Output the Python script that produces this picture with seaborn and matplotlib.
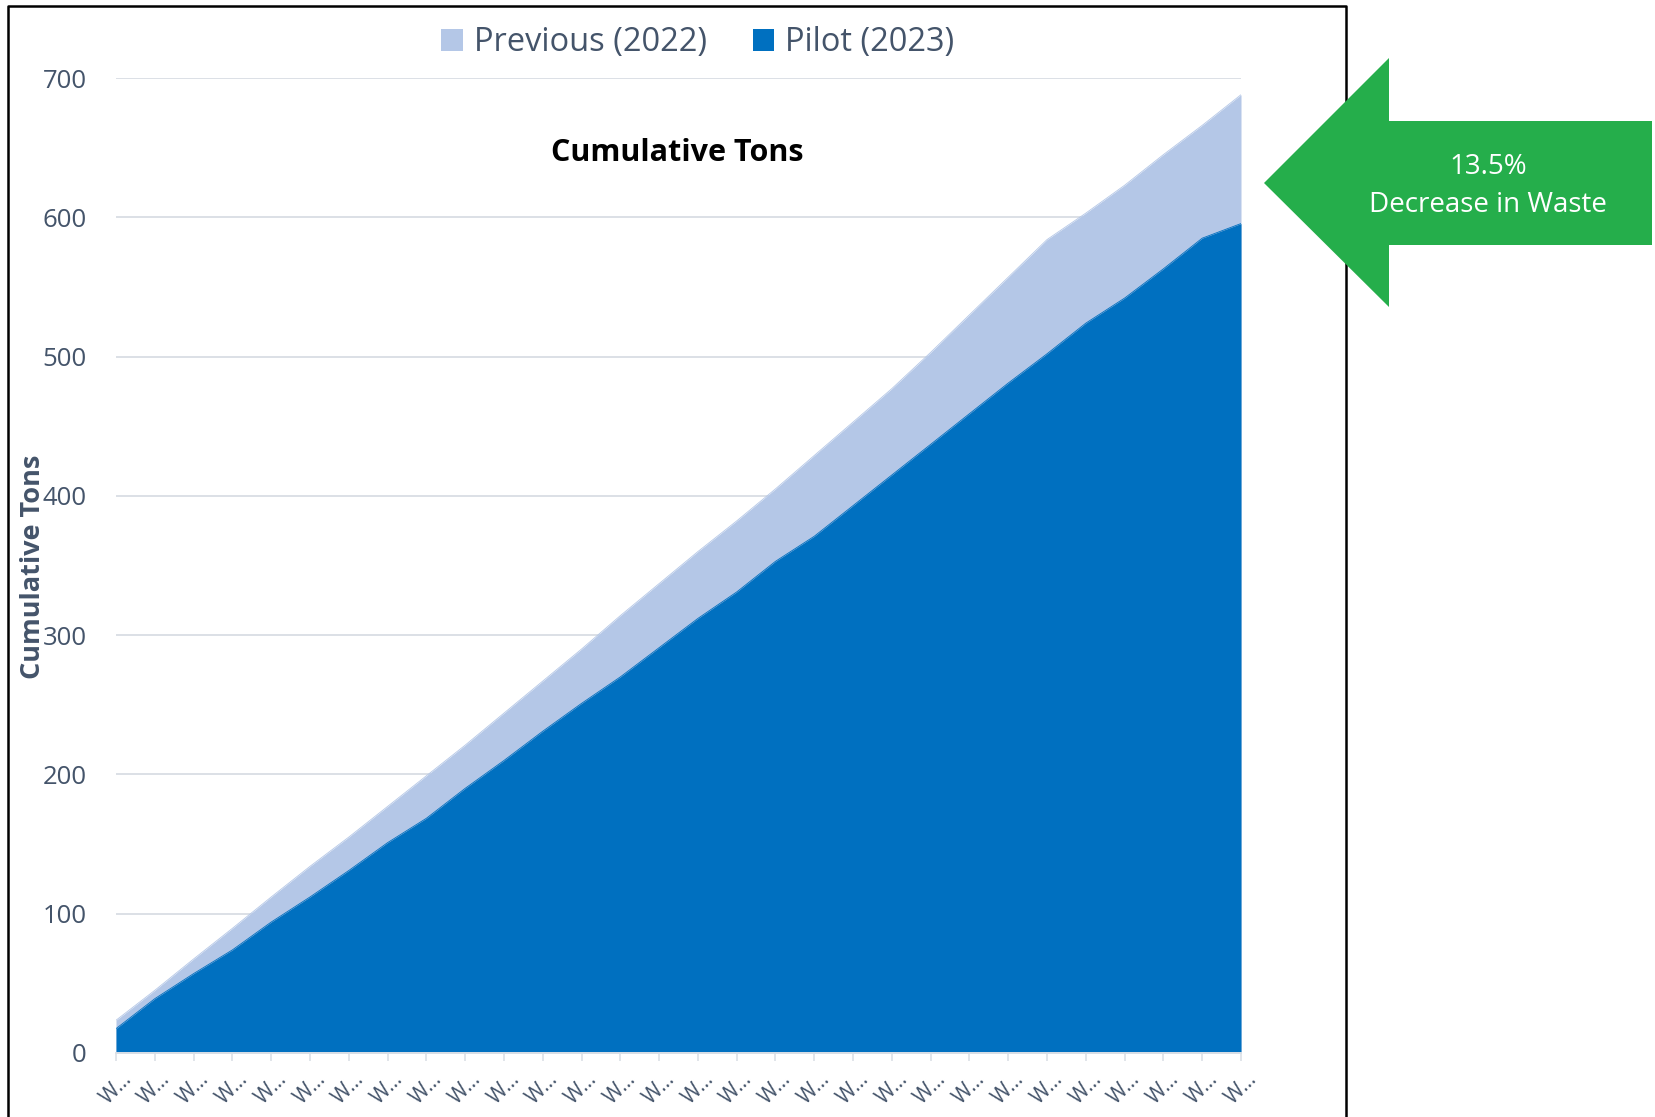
import matplotlib
matplotlib.use("Agg")
import matplotlib.pyplot as plt
from matplotlib.patches import Polygon, Patch
from matplotlib.lines import Line2D
import seaborn as sns
import pandas as pd
import numpy as np

# ---------------- data ----------------
weeks = ["W…", "W…", "W…", "W…", "W…", "W…", "W…", "W…", "W…", "W…",
         "W…", "W…", "W…", "W…", "W…", "W…", "W…", "W…", "W…", "W…",
         "W…", "W…", "W…", "W…", "W…", "W…", "W…", "W…", "W…", "W…"]
previous_2022 = [23.5, 45, 67.5, 89.5, 112, 134, 155, 177, 199, 221,
                 244, 267, 290, 314, 337, 360, 382, 405, 429, 453,
                 477, 503, 530, 557, 584, 603, 623, 645, 666, 688]
pilot_2023 = [17.5, 39, 57, 74, 94, 112, 131, 151, 168.5, 190,
              210, 231, 251, 270, 291, 312, 331, 353, 371, 393,
              415, 437, 459, 481, 502, 524, 542, 563, 585, 595.5]
series_names = ["Previous (2022)", "Pilot (2023)"]
y_ticks = [0, 100, 200, 300, 400, 500, 600, 700]
chart_title = "Cumulative Tons"
y_title = "Cumulative Tons"
callout_lines = ["13.5%", "Decrease in Waste"]

# ---------------- style ----------------
LIGHT = "#B4C7E7"
DARK = "#0070C0"
GREEN = "#25AE4B"
SLATE = "#44546A"
GRID = "#DCE0E6"

sns.set_theme(style="white")
plt.rcParams["font.family"] = ["Open Sans", "DejaVu Sans"]

W, H = 1655, 1117
fig = plt.figure(figsize=(W / 100, H / 100), dpi=100)
fig.patch.set_facecolor("white")

def fx(px):
    return px / W

def fy(py):
    return 1 - py / H

ax = fig.add_axes([fx(116), 64 / H, 1125 / W, 975 / H])

df = pd.DataFrame({"idx": np.arange(len(weeks)),
                   "previous": previous_2022,
                   "pilot": pilot_2023})

ax.fill_between(df["idx"], 0, df["previous"], color=LIGHT, lw=0, zorder=2)
sns.lineplot(data=df, x="idx", y="previous", color=LIGHT, lw=0.6, ax=ax, zorder=2)
ax.fill_between(df["idx"], 0, df["pilot"], color=DARK, lw=0, zorder=3)
sns.lineplot(data=df, x="idx", y="pilot", color=DARK, lw=0.6, ax=ax, zorder=3)

ax.set_xlim(0, len(weeks) - 1)
ax.set_ylim(0, 700)
ax.set_yticks(y_ticks)
ax.set_yticklabels([str(v) for v in y_ticks])
ax.set_xticks(df["idx"])
ax.set_xticklabels(weeks, rotation=45, ha="center")
ax.set_xlabel("")
ax.set_ylabel("")

ax.yaxis.grid(True, color=GRID, lw=1.4, zorder=0)
ax.xaxis.grid(False)
ax.set_axisbelow(True)
for s in ["top", "right", "left"]:
    ax.spines[s].set_visible(False)
ax.spines["bottom"].set_color(GRID)
ax.spines["bottom"].set_linewidth(1.4)
ax.spines["bottom"].set_zorder(4)

ax.tick_params(axis="y", length=0, pad=21, labelsize=18.5, labelcolor=SLATE)
ax.tick_params(axis="x", length=6, width=1.2, color=GRID, pad=5,
               labelsize=15, labelcolor=SLATE, bottom=True)

# chart title inside the plot area
ax.text(0.4987, 0.923, chart_title, transform=ax.transAxes, ha="center",
        va="center", fontsize=22, fontweight="bold", color="black")

# y axis title
fig.text(fx(33), fy(567), y_title, rotation=90, ha="center", va="center",
         fontsize=19.5, fontweight="bold", color=SLATE)

# legend
handles = [Patch(facecolor=LIGHT, edgecolor="none"),
           Patch(facecolor=DARK, edgecolor="none")]
fig.legend(handles, series_names, loc="center", ncol=2, frameon=False,
           bbox_to_anchor=(fx(698), fy(43)), bbox_transform=fig.transFigure,
           fontsize=23.5, labelcolor=SLATE, handlelength=0.65, handleheight=0.65,
           handletextpad=0.35, columnspacing=1.4)

# outer border (runs off the bottom of the image)
border = Line2D([fx(8), fx(8), fx(1346), fx(1346)],
                [fy(1125), fy(6), fy(6), fy(1125)],
                transform=fig.transFigure, color="black", lw=1.8, zorder=5)
fig.add_artist(border)

# green callout arrow
arrow_pts = [(1264, 183), (1389, 58), (1389, 121), (1652, 121),
             (1652, 245), (1389, 245), (1389, 307)]
arrow = Polygon([(fx(x), fy(y)) for x, y in arrow_pts], closed=True,
                transform=fig.transFigure, facecolor=GREEN, edgecolor="none",
                zorder=6)
fig.add_artist(arrow)
fig.text(fx(1488), fy(167), callout_lines[0], ha="center", va="center",
         fontsize=20, color="white", zorder=7)
fig.text(fx(1488), fy(205), callout_lines[1], ha="center", va="center",
         fontsize=20, color="white", zorder=7)

fig.savefig("out.png", dpi=100, facecolor="white")
